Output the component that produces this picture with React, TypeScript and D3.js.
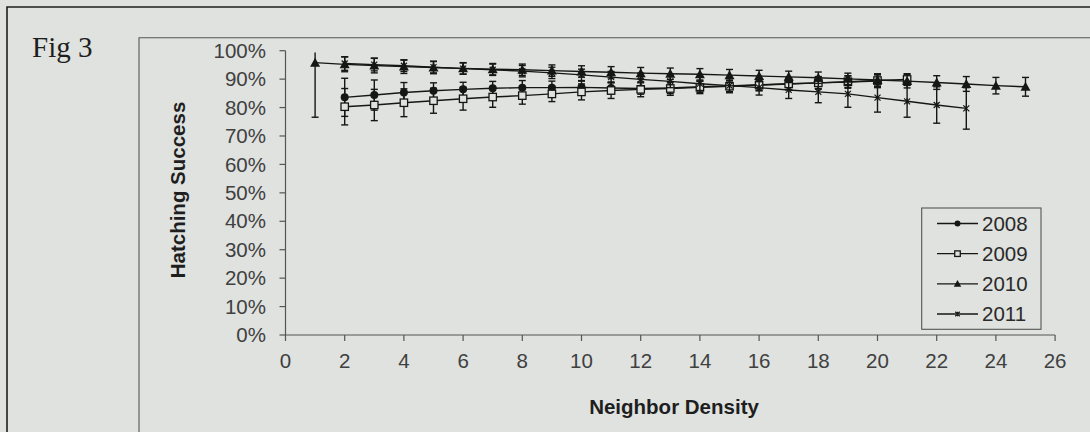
import React from "react";
import * as d3 from "d3";

const xTicks = [0, 2, 4, 6, 8, 10, 12, 14, 16, 18, 20, 22, 24, 26];
const yTicks = [0, 0.1, 0.2, 0.3, 0.4, 0.5, 0.6, 0.7, 0.8, 0.9, 1.0];

const density2008 = [2, 3, 4, 5, 6, 7, 8, 9, 10, 11, 12, 13, 14, 15, 16, 17, 18, 19, 20];
const hatch2008 = [0.836, 0.844, 0.853, 0.859, 0.864, 0.868, 0.87, 0.87, 0.871, 0.869, 0.867, 0.869, 0.873, 0.876, 0.88, 0.884, 0.887, 0.89, 0.893];
const err2008 = [0.067, 0.053, 0.035, 0.028, 0.025, 0.024, 0.025, 0.023, 0.022, 0.021, 0.02, 0.02, 0.02, 0.02, 0.02, 0.021, 0.022, 0.022, 0.023];

const density2009 = [2, 3, 4, 5, 6, 7, 8, 9, 10, 11, 12, 13, 14, 15, 16, 17, 18, 19, 20, 21];
const hatch2009 = [0.803, 0.809, 0.817, 0.824, 0.831, 0.837, 0.842, 0.848, 0.855, 0.86, 0.864, 0.867, 0.871, 0.875, 0.879, 0.883, 0.887, 0.891, 0.895, 0.899];
const err2009 = [0.064, 0.055, 0.049, 0.044, 0.04, 0.036, 0.03, 0.027, 0.028, 0.028, 0.026, 0.024, 0.022, 0.02, 0.02, 0.02, 0.02, 0.02, 0.02, 0.02];

const density2010 = [1, 2, 3, 4, 5, 6, 7, 8, 9, 10, 11, 12, 13, 14, 15, 16, 17, 18, 19, 20, 21, 22, 23, 24, 25];
const hatch2010 = [0.958, 0.952, 0.948, 0.944, 0.941, 0.938, 0.935, 0.933, 0.93, 0.927, 0.924, 0.921, 0.919, 0.917, 0.914, 0.911, 0.908, 0.905, 0.901, 0.897, 0.893, 0.888, 0.883, 0.877, 0.873];
const errUp2010 = [0.036, 0.026, 0.026, 0.024, 0.022, 0.02, 0.02, 0.02, 0.02, 0.02, 0.02, 0.02, 0.02, 0.02, 0.02, 0.02, 0.02, 0.02, 0.02, 0.022, 0.024, 0.024, 0.026, 0.029, 0.033];
const errDown2010 = [0.192, 0.026, 0.026, 0.024, 0.022, 0.02, 0.02, 0.02, 0.02, 0.02, 0.02, 0.02, 0.02, 0.02, 0.02, 0.02, 0.02, 0.02, 0.02, 0.022, 0.024, 0.024, 0.026, 0.029, 0.033];

const density2011 = [2, 3, 4, 5, 6, 7, 8, 9, 10, 11, 12, 13, 14, 15, 16, 17, 18, 19, 20, 21, 22, 23];
const hatch2011 = [0.955, 0.951, 0.947, 0.942, 0.937, 0.933, 0.928, 0.922, 0.915, 0.907, 0.899, 0.892, 0.884, 0.877, 0.87, 0.862, 0.855, 0.848, 0.835, 0.822, 0.809, 0.797];
const err2011 = [0.024, 0.022, 0.02, 0.02, 0.02, 0.02, 0.02, 0.02, 0.02, 0.02, 0.022, 0.022, 0.024, 0.025, 0.026, 0.03, 0.038, 0.047, 0.051, 0.056, 0.064, 0.073];

const seriesNames = ["2008", "2009", "2010", "2011"];

const BG = "#dfe2df";
const INK = "#161616";

type Pt = { x: number; y: number; lo: number; hi: number };

function build(xs: number[], ys: number[], up: number[], down: number[]): Pt[] {
  return xs.map((x, i) => ({ x, y: ys[i], lo: ys[i] - down[i], hi: ys[i] + up[i] }));
}

const series: { name: string; marker: string; pts: Pt[] }[] = [
  { name: seriesNames[0], marker: "circle", pts: build(density2008, hatch2008, err2008, err2008) },
  { name: seriesNames[1], marker: "square", pts: build(density2009, hatch2009, err2009, err2009) },
  { name: seriesNames[2], marker: "triangle", pts: build(density2010, hatch2010, errUp2010, errDown2010) },
  { name: seriesNames[3], marker: "cross", pts: build(density2011, hatch2011, err2011, err2011) },
];

function Marker({ type, cx, cy, k = 1 }: { type: string; cx: number; cy: number; k?: number }) {
  if (type === "circle") return <circle cx={cx} cy={cy} r={4 * k} fill={INK} />;
  if (type === "square")
    return <rect x={cx - 3.7 * k} y={cy - 3.7 * k} width={7.4 * k} height={7.4 * k} fill={BG} stroke={INK} strokeWidth={1.3} />;
  if (type === "triangle") {
    const s = 5 * k;
    return <path d={`M${cx},${cy - s}L${cx + s},${cy + s * 0.8}L${cx - s},${cy + s * 0.8}Z`} fill={INK} />;
  }
  const s = 3 * k;
  return (
    <path d={`M${cx - s},${cy - s}L${cx + s},${cy + s}M${cx - s},${cy + s}L${cx + s},${cy - s}M${cx},${cy - s}L${cx},${cy + s}`} stroke={INK} strokeWidth={1.2} />
  );
}

export default function App() {
  const x = d3.scaleLinear().domain([0, 26]).range([285.5, 1055.1]);
  const y = d3.scaleLinear().domain([0, 1]).range([335, 50.7]);
  const line = d3
    .line<Pt>()
    .x((d) => x(d.x))
    .y((d) => y(d.y));
  const sans = "'Liberation Sans', Arial, sans-serif";
  const legendY = d3.scaleLinear().domain([0, 3]).range([223.5, 314]);

  return (
    <svg width={1090} height={432} style={{ position: "absolute", left: 0, top: 0 }}>
      <rect x={0} y={0} width={1090} height={432} fill={BG} />
      {/* frames */}
      <path d="M7,432V7H1090" fill="none" stroke="#1e1e1e" strokeWidth={1.6} />
      <path d="M139,432V37.7H1090" fill="none" stroke="#555" strokeWidth={1.1} />
      <text x={32} y={57} fontFamily="'Liberation Serif', 'Times New Roman', serif" fontSize={29} fill="#1e1e1e">
        Fig 3
      </text>

      {/* y axis */}
      <line x1={x(0)} x2={x(0)} y1={y(0)} y2={y(1)} stroke="#555" strokeWidth={1.2} />
      {yTicks.map((t) => (
        <g key={"y" + t}>
          <line x1={x(0) - 6} x2={x(0)} y1={y(t)} y2={y(t)} stroke="#555" strokeWidth={1.2} />
          <text x={266} y={y(t)} dy="0.35em" textAnchor="end" fontFamily={sans} fontSize={20.5} fill="#404040">
            {d3.format(".0%")(t)}
          </text>
        </g>
      ))}
      {/* x axis */}
      <line x1={x(0)} x2={x(26)} y1={y(0)} y2={y(0)} stroke="#555" strokeWidth={1.2} />
      {xTicks.map((t) => (
        <g key={"x" + t}>
          <line x1={x(t)} x2={x(t)} y1={y(0)} y2={y(0) + 6} stroke="#555" strokeWidth={1.2} />
          <text x={x(t)} y={361} dy="0.35em" textAnchor="middle" fontFamily={sans} fontSize={20.5} fill="#404040">
            {t}
          </text>
        </g>
      ))}
      <text x={674} y={407} dy="0.35em" textAnchor="middle" fontFamily={sans} fontWeight="bold" fontSize={20.5} fill="#1e1e1e">
        Neighbor Density
      </text>
      <text
        transform={`translate(178,190) rotate(-90)`}
        dy="0.35em"
        textAnchor="middle"
        fontFamily={sans}
        fontWeight="bold"
        fontSize={20.5}
        fill="#1e1e1e"
      >
        Hatching Success
      </text>

      {/* series */}
      {series.map((s) => (
        <g key={s.name}>
          <path d={line(s.pts) || ""} fill="none" stroke={INK} strokeWidth={1.4} />
          {s.pts.map((p, i) => (
            <g key={i} stroke={INK} strokeWidth={1.4}>
              <line x1={x(p.x)} x2={x(p.x)} y1={y(p.lo)} y2={y(p.hi)} />
              <line x1={x(p.x) - 3.5} x2={x(p.x) + 3.5} y1={y(p.lo)} y2={y(p.lo)} />
              {!(s.name === "2010" && i === 0) && (
                <line x1={x(p.x) - 3.5} x2={x(p.x) + 3.5} y1={y(p.hi)} y2={y(p.hi)} />
              )}
            </g>
          ))}
          {s.pts.map((p, i) => (
            <Marker key={"m" + i} type={s.marker} cx={x(p.x)} cy={y(p.y)} />
          ))}
        </g>
      ))}

      {/* legend */}
      <rect x={921.7} y={208} width={119.3} height={121.3} fill={BG} stroke="#555" strokeWidth={1.1} />
      {series.map((s, i) => (
        <g key={"lg" + s.name}>
          <line x1={937} x2={978} y1={legendY(i)} y2={legendY(i)} stroke={INK} strokeWidth={1.4} />
          <Marker type={s.marker} cx={957.5} cy={legendY(i)} k={0.75} />
          <text x={982} y={legendY(i)} dy="0.35em" fontFamily={sans} fontSize={20.5} fill="#2a2a2a">
            {s.name}
          </text>
        </g>
      ))}
    </svg>
  );
}
